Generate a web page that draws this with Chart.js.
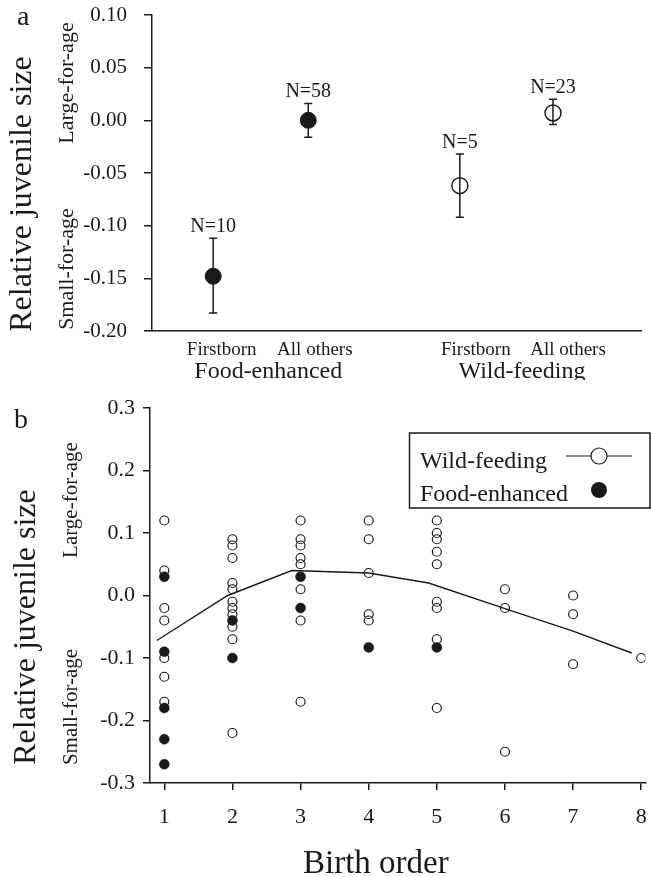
<!DOCTYPE html>
<html>
<head>
<meta charset="utf-8">
<script src="https://cdn.jsdelivr.net/npm/chart.js@4.4.0/dist/chart.umd.min.js"></script>
<style>
    body { margin: 0; background: #fff; }
    #wrap { position: relative; width: 651px; height: 877px; overflow: hidden; }
    canvas { position: absolute; left: 0; }
</style>
</head>
<body>
<div id="wrap">
    <canvas id="chart-a" width="651" height="380" style="top:0"></canvas>
    <canvas id="chart-b" width="651" height="497" style="top:380px"></canvas>
</div>
<script>
// ---- Panel a: means with error bars ----
const groupsA = ['Food-enhanced', 'Wild-feeding'];
const categoriesA = ['Firstborn', 'All others', 'Firstborn', 'All others'];
const pointXA = [0.65, 1.66, 3.27, 4.26];      // x coordinate of each mean
const labelXA = [0.74, 1.73, 3.44, 4.42];      // x coordinate of each category label
const foodMeanA = [-0.148, 0.000];
const foodUpperA = [-0.112, 0.016];
const foodLowerA = [-0.183, -0.016];
const foodNA = ['N=10', 'N=58'];
const wildMeanA = [-0.062, 0.007];
const wildUpperA = [-0.032, 0.020];
const wildLowerA = [-0.092, -0.004];
const wildNA = ['N=5', 'N=23'];
const yTicksA = [-0.20, -0.15, -0.10, -0.05, 0.00, 0.05, 0.10];

// ---- Panel b: individuals by birth order ----
const birthOrders = [1, 2, 3, 4, 5, 6, 7, 8];
const wildValuesB = [
    [0.12, 0.04, -0.02, -0.04, -0.10, -0.13, -0.17],
    [0.09, 0.08, 0.06, 0.02, 0.01, -0.01, -0.02, -0.03, -0.05, -0.07, -0.22],
    [0.12, 0.09, 0.08, 0.06, 0.05, 0.01, -0.04, -0.17],
    [0.12, 0.09, 0.036, -0.03, -0.04],
    [0.12, 0.10, 0.09, 0.07, 0.05, -0.01, -0.02, -0.07, -0.18],
    [0.01, -0.02, -0.25],
    [0.00, -0.03, -0.11],
    [-0.10]
];
const foodValuesB = [
    [0.03, -0.09, -0.18, -0.23, -0.27],
    [-0.04, -0.10],
    [0.03, -0.02],
    [-0.083],
    [-0.083],
    [], [], []
];
const wildLineX = [0.89, 1.93, 2.87, 4.0, 4.88, 6.0, 7.0, 7.86];
const wildLineY = [-0.072, 0.0, 0.04, 0.036, 0.020, -0.021, -0.057, -0.092];
const yTicksB = [-0.3, -0.2, -0.1, 0.0, 0.1, 0.2, 0.3];

const INK = '#1a1a1a';
const SERIF = "'Liberation Serif', 'Times New Roman', serif";
Chart.defaults.font.family = SERIF;
Chart.defaults.color = INK;

function fmt(v, d) {
    return (Math.abs(v) < 1e-9 ? 0 : v).toFixed(d);
}

function rotatedText(ctx, text, x, y, size) {
    ctx.save();
    ctx.translate(x, y);
    ctx.rotate(-Math.PI / 2);
    ctx.font = size + 'px ' + SERIF;
    ctx.textAlign = 'center';
    ctx.textBaseline = 'middle';
    ctx.fillText(text, 0, 0);
    ctx.restore();
}

// error bars, N labels and axis texts for panel a
const panelAPlugin = {
    id: 'panelA',
    afterDatasetsDraw(chart) {
        const ctx = chart.ctx;
        const xs = chart.scales.x, ys = chart.scales.y;
        ctx.save();
        ctx.strokeStyle = INK;
        ctx.fillStyle = INK;
        ctx.lineWidth = 1.5;
        chart.data.datasets.forEach(ds => {
            ds.data.forEach((p, i) => {
                const px = xs.getPixelForValue(p.x);
                const top = ys.getPixelForValue(ds.upper[i]);
                const bot = ys.getPixelForValue(ds.lower[i]);
                ctx.beginPath();
                ctx.moveTo(px, top); ctx.lineTo(px, bot);
                ctx.moveTo(px - 4, top); ctx.lineTo(px + 4, top);
                ctx.moveTo(px - 4, bot); ctx.lineTo(px + 4, bot);
                ctx.stroke();
                ctx.font = '20px ' + SERIF;
                ctx.textAlign = 'center';
                ctx.textBaseline = 'alphabetic';
                ctx.fillText(ds.nLabels[i], px, top - 6);
            });
        });
        ctx.restore();
    },
    afterDraw(chart) {
        const ctx = chart.ctx;
        const xs = chart.scales.x;
        ctx.save();
        ctx.fillStyle = INK;
        ctx.font = '28px ' + SERIF;
        ctx.textAlign = 'left';
        ctx.textBaseline = 'alphabetic';
        ctx.fillText('a', 17, 25);
        rotatedText(ctx, 'Relative juvenile size', 23, 194, 32);
        rotatedText(ctx, 'Large-for-age', 67, 83, 22);
        rotatedText(ctx, 'Small-for-age', 67, 269, 22);
        ctx.font = '24px ' + SERIF;
        ctx.textAlign = 'center';
        groupsA.forEach((g, i) => {
            const mid = (labelXA[2 * i] + labelXA[2 * i + 1]) / 2;
            ctx.fillText(g, xs.getPixelForValue(mid), 378);
        });
        ctx.restore();
    }
};

new Chart(document.getElementById('chart-a'), {
    type: 'scatter',
    data: {
        datasets: [
            {
                label: groupsA[0],
                data: foodMeanA.map((y, i) => ({ x: pointXA[i], y })),
                upper: foodUpperA, lower: foodLowerA, nLabels: foodNA,
                pointRadius: 8,
                pointBackgroundColor: INK,
                pointBorderColor: INK,
                pointBorderWidth: 1
            },
            {
                label: groupsA[1],
                data: wildMeanA.map((y, i) => ({ x: pointXA[i + 2], y })),
                upper: wildUpperA, lower: wildLowerA, nLabels: wildNA,
                pointRadius: 8,
                pointBackgroundColor: 'rgba(0,0,0,0)',
                pointBorderColor: INK,
                pointBorderWidth: 1.5
            }
        ]
    },
    options: {
        responsive: false,
        animation: false,
        events: [],
        layout: { padding: { top: 15, right: 3, left: 0, bottom: 0 } },
        plugins: { legend: { display: false }, tooltip: { enabled: false } },
        scales: {
            x: {
                type: 'linear',
                min: 0,
                max: 5.2,
                afterBuildTicks: s => { s.ticks = labelXA.map(v => ({ value: v })); },
                afterFit: s => { s.height = 49; s.paddingLeft = 0; s.paddingRight = 0; },
                grid: { drawOnChartArea: false, drawTicks: false },
                border: { color: INK, width: 1.5 },
                ticks: {
                    callback: (v, i) => categoriesA[i],
                    font: { size: 19 },
                    padding: 8,
                    maxRotation: 0,
                    autoSkip: false
                }
            },
            y: {
                min: -0.2,
                max: 0.1,
                afterBuildTicks: s => { s.ticks = yTicksA.map(v => ({ value: v })); },
                afterFit: s => { s.width = 152; s.paddingTop = 0; s.paddingBottom = 0; },
                grid: { drawOnChartArea: false, tickLength: 8, color: INK, lineWidth: 1.5 },
                border: { color: INK, width: 1.5 },
                ticks: { callback: v => fmt(v, 2), font: { size: 21 }, padding: 17 }
            }
        }
    },
    plugins: [panelAPlugin]
});

// texts and legend for panel b
const panelBPlugin = {
    id: 'panelB',
    afterDraw(chart) {
        const ctx = chart.ctx;
        ctx.save();
        ctx.fillStyle = INK;
        ctx.strokeStyle = INK;
        ctx.font = '28px ' + SERIF;
        ctx.textAlign = 'left';
        ctx.textBaseline = 'alphabetic';
        ctx.fillText('b', 14, 48);
        rotatedText(ctx, 'Relative juvenile size', 27, 247, 32);
        rotatedText(ctx, 'Large-for-age', 71, 120, 21);
        rotatedText(ctx, 'Small-for-age', 71, 327, 21);
        ctx.font = '33px ' + SERIF;
        ctx.fillText('Birth order', 303, 493);

        // legend box
        const wild = chart.data.datasets[1];
        const food = chart.data.datasets[0];
        ctx.lineWidth = 1.5;
        ctx.strokeRect(409.5, 53, 240.5, 75);
        ctx.font = '24px ' + SERIF;
        ctx.fillText(wild.label, 420, 88);
        ctx.fillText(food.label, 420, 121);
        ctx.lineWidth = 1.2;
        ctx.beginPath();
        ctx.moveTo(566, 76); ctx.lineTo(632, 76);
        ctx.stroke();
        ctx.beginPath();
        ctx.arc(599, 76, 8, 0, Math.PI * 2);
        ctx.fillStyle = '#fff';
        ctx.fill();
        ctx.stroke();
        ctx.beginPath();
        ctx.arc(599, 110, 8, 0, Math.PI * 2);
        ctx.fillStyle = INK;
        ctx.fill();
        ctx.restore();
    }
};

const wildPointsB = [];
wildValuesB.forEach((vals, i) => vals.forEach(y => wildPointsB.push({ x: birthOrders[i], y })));
const foodPointsB = [];
foodValuesB.forEach((vals, i) => vals.forEach(y => foodPointsB.push({ x: birthOrders[i], y })));

new Chart(document.getElementById('chart-b'), {
    type: 'scatter',
    data: {
        datasets: [
            {
                label: 'Food-enhanced',
                data: foodPointsB,
                order: 0,
                pointRadius: 5,
                pointBackgroundColor: INK,
                pointBorderColor: INK,
                pointBorderWidth: 0.5
            },
            {
                label: 'Wild-feeding',
                data: wildPointsB,
                order: 1,
                pointRadius: 4.5,
                pointBackgroundColor: 'rgba(0,0,0,0)',
                pointBorderColor: INK,
                pointBorderWidth: 1.2
            },
            {
                label: 'Wild-feeding mean',
                data: wildLineX.map((x, i) => ({ x, y: wildLineY[i] })),
                order: 2,
                showLine: true,
                pointRadius: 0,
                borderColor: INK,
                borderWidth: 1.4,
                tension: 0
            }
        ]
    },
    options: {
        responsive: false,
        animation: false,
        events: [],
        layout: { padding: { top: 28, right: 0, left: 0, bottom: 0 } },
        plugins: { legend: { display: false }, tooltip: { enabled: false } },
        scales: {
            x: {
                type: 'linear',
                min: 0.79,
                max: 8.06,
                afterBuildTicks: s => { s.ticks = birthOrders.map(v => ({ value: v })); },
                afterFit: s => { s.height = 94; s.paddingLeft = 0; s.paddingRight = 0; },
                grid: { drawOnChartArea: false, tickLength: 7, color: INK, lineWidth: 1.5 },
                border: { color: INK, width: 1.5 },
                ticks: { font: { size: 22 }, padding: 14, maxRotation: 0, autoSkip: false }
            },
            y: {
                min: -0.3,
                max: 0.3,
                afterBuildTicks: s => { s.ticks = yTicksB.map(v => ({ value: v })); },
                afterFit: s => { s.width = 150; s.paddingTop = 0; s.paddingBottom = 0; },
                grid: { drawOnChartArea: false, tickLength: 7, color: INK, lineWidth: 1.5 },
                border: { color: INK, width: 1.5 },
                ticks: { callback: v => fmt(v, 1), font: { size: 22 }, padding: 8 }
            }
        }
    },
    plugins: [panelBPlugin]
});
</script>
</body>
</html>
